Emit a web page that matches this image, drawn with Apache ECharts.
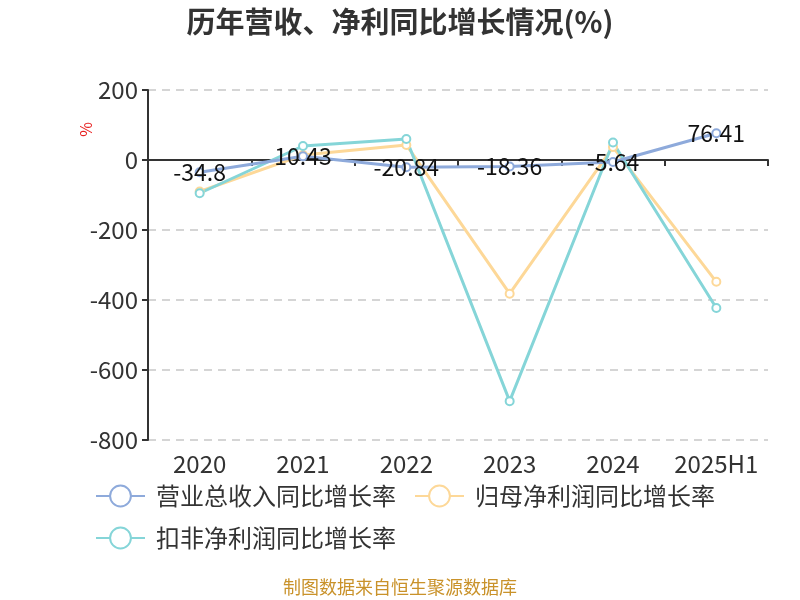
<!DOCTYPE html>
<html><head><meta charset="utf-8">
<script src="https://cdn.jsdelivr.net/npm/echarts@6/dist/echarts.min.js"></script>
<style>html,body{margin:0;padding:0;background:#fff}#c{width:800px;height:600px}</style>
</head><body><div id="c"></div>
<script>
const categories = ['2020','2021','2022','2023','2024','2025H1'];
const revenueGrowth = [-34.8, 10.43, -20.84, -18.36, -5.64, 76.41];
const netProfitGrowth = [-90, 14, 43, -382, 37, -348];
const deductedProfitGrowth = [-95, 40, 60, -689, 50, -423];
const seriesNames = ['营业总收入同比增长率','归母净利润同比增长率','扣非净利润同比增长率'];
const yTicks = {min: -800, max: 200, interval: 200};

const font = '"Noto Sans CJK SC", "Noto Sans", sans-serif';
const chart = echarts.init(document.getElementById('c'));
function lineSeries(name, data, color, withLabel) {
  return {
    name, type: 'line', data, xAxisIndex: 0,
    symbol: 'emptyCircle', symbolSize: 8,
    lineStyle: {width: 3, color},
    itemStyle: {color, borderWidth: 2},
    label: withLabel ? {show: true, position: 'inside', fontSize: 23, color: '#111', fontFamily: font} : {show: false},
    z: withLabel ? 3 : 2
  };
}
chart.setOption({
  animation: false,
  textStyle: {fontFamily: font},
  title: {text: '历年营收、净利同比增长情况(%)', left: 'center', top: 2,
    textStyle: {fontSize: 29, fontWeight: 'bold', color: '#333', fontFamily: font}},
  grid: {left: 148, right: 32, top: 90, bottom: 160},
  legend: {
    left: 90, top: 479, width: 680, itemWidth: 49, itemHeight: 26, itemGap: 18,
    textStyle: {fontSize: 24, color: '#333', fontFamily: font, padding: [0, 2, 0, 6]},
    data: seriesNames
  },
  xAxis: [
    {type: 'category', data: categories, boundaryGap: true,
     axisLine: {onZero: true, lineStyle: {color: '#333', width: 2}},
     axisTick: {show: true, inside: false, length: 6, lineStyle: {color: '#333', width: 2}},
     axisLabel: {show: false}, splitLine: {show: false}},
    {type: 'category', data: categories, boundaryGap: true, position: 'bottom',
     axisLine: {show: false, onZero: false}, axisTick: {show: false},
     axisLabel: {show: true, interval: 0, fontSize: 24, color: '#333', margin: 12, fontFamily: font}}
  ],
  yAxis: {
    type: 'value', min: yTicks.min, max: yTicks.max, interval: yTicks.interval,
    axisLine: {show: true, lineStyle: {color: '#333', width: 2}},
    axisTick: {show: true, length: 6, lineStyle: {color: '#333', width: 2}},
    axisLabel: {fontSize: 24, color: '#333', margin: 10, fontFamily: font},
    splitLine: {show: true, lineStyle: {type: [8, 6], color: '#c8c8c8', width: 1.5}}
  },
  graphic: [
    {type: 'text', left: 78, top: 122, rotation: Math.PI / 2,
     style: {text: '%', fill: '#e82020', fontSize: 16, fontFamily: font}},
    {type: 'text', left: 'center', top: 578,
     style: {text: '制图数据来自恒生聚源数据库', fill: '#c9922a', fontSize: 18, fontFamily: font}}
  ],
  series: [
    lineSeries(seriesNames[1], netProfitGrowth, '#fdd898', false),
    lineSeries(seriesNames[2], deductedProfitGrowth, '#85d5d8', false),
    lineSeries(seriesNames[0], revenueGrowth, '#8eaadb', true)
  ]
});
</script></body></html>
